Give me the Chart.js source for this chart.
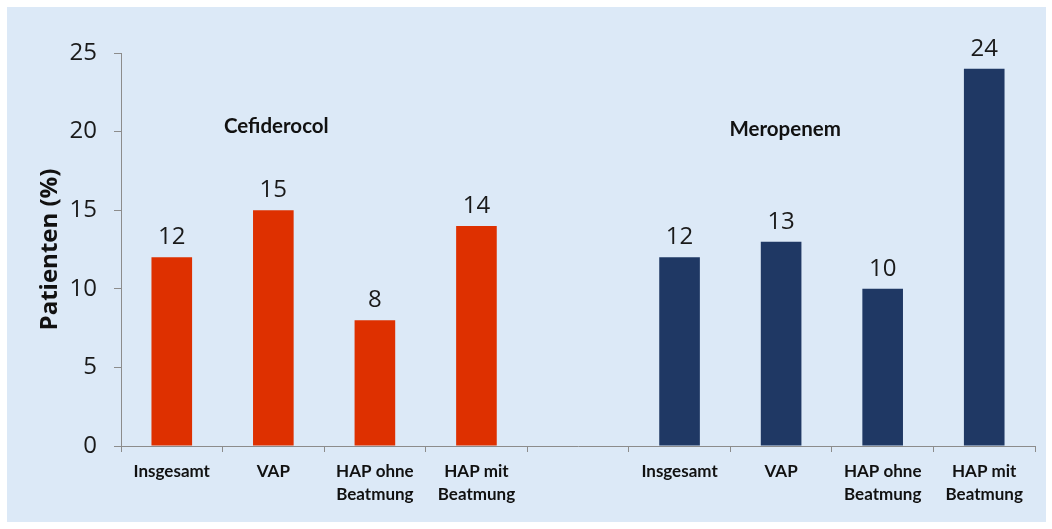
<!DOCTYPE html>
<html>
<head>
<meta charset="utf-8">
<script src="https://cdn.jsdelivr.net/npm/chart.js@4/dist/chart.umd.min.js"></script>
<style>
  html, body { margin: 0; padding: 0; background: #ffffff; }
  #wrap { width: 1052px; height: 529px; position: relative; }
</style>
</head>
<body>
<div id="wrap"><canvas id="myChart" width="1052" height="529"></canvas></div>
<script>
// Categories (same four for each drug) and values in %
const categories = [['Insgesamt'], ['VAP'], ['HAP ohne', 'Beatmung'], ['HAP mit', 'Beatmung']];
const cefiderocolValues = [12, 15, 8, 14];
const meropenemValues = [12, 13, 10, 24];
const groupNames = ['Cefiderocol', 'Meropenem'];
const yTicks = [0, 5, 10, 15, 20, 25];

// One empty slot between the two groups
const labels = [...categories, '', ...categories];
const gap = [null];
const cefiData = [...cefiderocolValues, ...gap, ...categories.map(() => null)];
const meroData = [...categories.map(() => null), ...gap, ...meropenemValues];

// Panel background
const panelPlugin = {
  id: 'panel',
  beforeDraw(chart) {
    const ctx = chart.ctx;
    ctx.save();
    ctx.fillStyle = '#ffffff';
    ctx.fillRect(0, 0, chart.width, chart.height);
    ctx.fillStyle = '#dce9f7';
    ctx.fillRect(7, 7, 1039, 515);
    ctx.restore();
  }
};

// Value labels above bars + group names
const labelPlugin = {
  id: 'valueLabels',
  afterDatasetsDraw(chart) {
    const ctx = chart.ctx;
    ctx.save();
    ctx.fillStyle = '#1a1a1a';
    ctx.font = '24px "Open Sans"';
    ctx.textAlign = 'center';
    ctx.textBaseline = 'alphabetic';
    chart.data.datasets.forEach((ds, i) => {
      chart.getDatasetMeta(i).data.forEach((bar, j) => {
        if (ds.data[j] == null) return;
        ctx.fillText(String(ds.data[j]), bar.x, bar.y - 13);
      });
    });

    // group names
    const x = chart.scales.x, y = chart.scales.y;
    ctx.font = 'bold 20.5px Lato';
    ctx.fillStyle = '#111111';
    ctx.fillText(groupNames[0], x.getPixelForValue(1) + 3, y.getPixelForValue(20.3) + 6);
    ctx.fillText(groupNames[1], x.getPixelForValue(6) + 4, y.getPixelForValue(20.1) + 6);
    ctx.restore();
  }
};

const config = {
  type: 'bar',
  data: {
    labels: labels,
    datasets: [
      {
        label: groupNames[0],
        data: cefiData,
        backgroundColor: '#de3000',
        grouped: false,
        categoryPercentage: 1,
        barPercentage: 0.4
      },
      {
        label: groupNames[1],
        data: meroData,
        backgroundColor: '#1f3864',
        grouped: false,
        categoryPercentage: 1,
        barPercentage: 0.4
      }
    ]
  },
  options: {
    responsive: false,
    animation: false,
    layout: { padding: { top: 53, right: 17, left: 0, bottom: 0 } },
    plugins: {
      legend: { display: false },
      tooltip: { enabled: false }
    },
    scales: {
      x: {
        grid: {
          drawOnChartArea: false,
          drawTicks: true,
          tickLength: 6,
          color: '#8c8c8c',
          offset: true
        },
        border: { color: '#8c8c8c', width: 1 },
        ticks: {
          color: '#111111',
          padding: 8,
          maxRotation: 0,
          autoSkip: false,
          font: { family: 'Lato', size: 17, weight: 'bold', lineHeight: 1.35 }
        },
        afterFit(scale) { scale.height = 83; }
      },
      y: {
        min: 0,
        max: 25,
        afterBuildTicks(scale) { scale.ticks = yTicks.map(v => ({ value: v })); },
        grid: {
          drawOnChartArea: false,
          drawTicks: true,
          tickLength: 7,
          color: '#8c8c8c'
        },
        border: { color: '#8c8c8c', width: 1 },
        ticks: {
          color: '#1a1a1a',
          padding: 17,
          font: { family: 'Open Sans', size: 24 }
        },
        title: {
          display: true,
          text: 'Patienten (%)',
          color: '#111111',
          padding: { top: 36, bottom: 0 },
          font: { family: 'Open Sans', size: 24, weight: 'bold' }
        },
        afterFit(scale) { scale.width = 121; }
      }
    }
  },
  plugins: [panelPlugin, labelPlugin]
};

const ctx = document.getElementById('myChart').getContext('2d');
const myBarChart = new Chart(ctx, config);
</script>
</body>
</html>
